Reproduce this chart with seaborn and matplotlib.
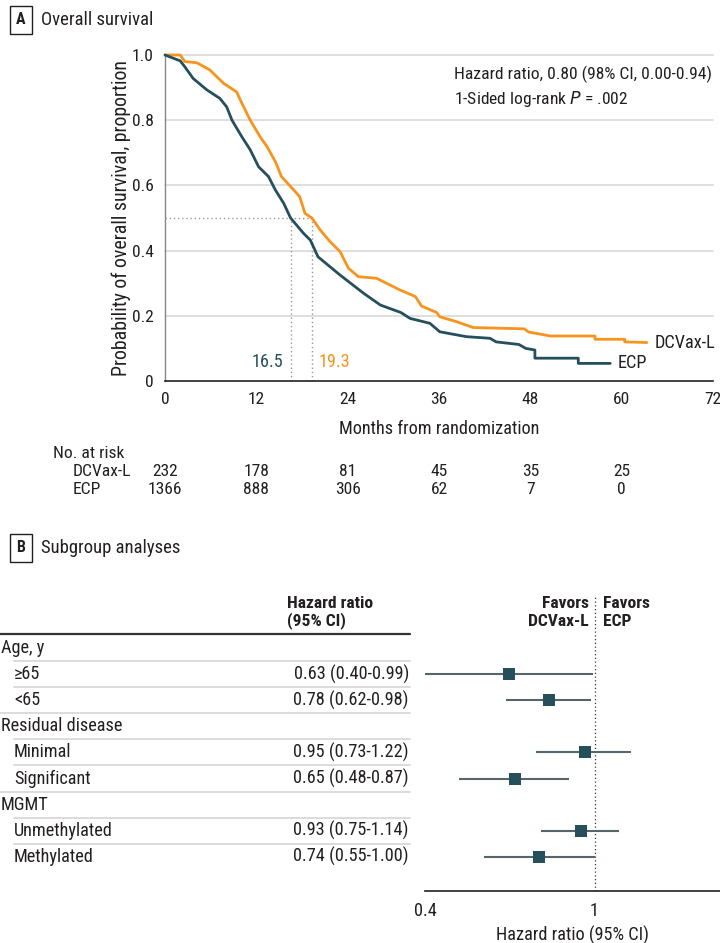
import numpy as np
import pandas as pd
import matplotlib
matplotlib.use("Agg")
import matplotlib.pyplot as plt
import matplotlib.transforms as mtransforms
from matplotlib import font_manager as fm
from matplotlib.ticker import FixedLocator, NullFormatter
import seaborn as sns

# ---------------- data ----------------
ecp_t = [0, 2.0, 2.6, 3.7, 5.5, 7.2, 8.1, 8.8, 10.1, 11.2, 12.3, 13.6, 14.5, 15.6, 16.5,
         18.2, 19.1, 20.1, 23.0, 26.1, 28.3, 31.0, 32.2, 34.8, 36.1, 39.6, 42.7, 43.5,
         46.5, 47.4, 48.6, 48.6, 54.3, 54.3, 58.5]
ecp_s = [1.0, 0.982, 0.964, 0.928, 0.893, 0.867, 0.841, 0.80, 0.749, 0.709, 0.657, 0.627,
         0.586, 0.545, 0.50, 0.453, 0.432, 0.381, 0.325, 0.269, 0.233, 0.21, 0.192, 0.177,
         0.151, 0.136, 0.131, 0.120, 0.112, 0.100, 0.095, 0.070, 0.070, 0.054, 0.054]
dcv_t = [0, 2.0, 2.6, 4.2, 5.9, 7.7, 9.4, 10.1, 11.2, 12.5, 13.4, 14.5, 15.3, 17.3, 17.7,
         18.4, 19.3, 20.4, 21.7, 23.0, 24.1, 25.4, 27.8, 29.6, 30.9, 32.9, 33.7, 35.7,
         36.1, 38.3, 40.5, 47.2, 47.8, 49.5, 50.6, 56.5, 56.5, 60.4, 60.4, 63.3]
dcv_s = [1.0, 1.0, 0.98, 0.976, 0.954, 0.913, 0.887, 0.852, 0.80, 0.749, 0.719, 0.673,
         0.627, 0.576, 0.565, 0.514, 0.50, 0.463, 0.427, 0.397, 0.346, 0.320, 0.315,
         0.294, 0.279, 0.259, 0.230, 0.210, 0.197, 0.182, 0.164, 0.160, 0.150, 0.143,
         0.138, 0.138, 0.128, 0.128, 0.120, 0.118]
medians = {"ECP": 16.5, "DCVax-L": 19.3}
risk_times = [0, 12, 24, 36, 48, 60]
risk_dcv = [232, 178, 81, 45, 35, 25]
risk_ecp = [1366, 888, 306, 62, 7, 0]

row_labels = ["Age, y", "≥65", "<65", "Residual disease", "Minimal", "Significant",
              "MGMT", "Unmethylated", "Methylated"]
row_is_group = [True, False, False, True, False, False, True, False, False]
hr_text = ["", "0.63 (0.40-0.99)", "0.78 (0.62-0.98)", "", "0.95 (0.73-1.22)",
           "0.65 (0.48-0.87)", "", "0.93 (0.75-1.14)", "0.74 (0.55-1.00)"]
hr = [np.nan, 0.63, 0.78, np.nan, 0.95, 0.65, np.nan, 0.93, 0.74]
hr_lo = [np.nan, 0.40, 0.62, np.nan, 0.73, 0.48, np.nan, 0.75, 0.55]
hr_hi = [np.nan, 0.99, 0.98, np.nan, 1.22, 0.87, np.nan, 1.14, 1.00]

# ---------------- style ----------------
sns.set_theme(style="white")
names = {f.name for f in fm.fontManager.ttflist}
cond_dejavu = any(f.name == "DejaVu Sans" and "ondensed" in str(f.stretch) or
                  ("DejaVuSansCondensed" in f.fname) for f in fm.fontManager.ttflist)
STRETCH = "normal"
SC = 1.0
if "Liberation Sans Narrow" in names:
    FONT = ["Liberation Sans Narrow", "DejaVu Sans"]
    SC = 1.08
elif "Roboto Condensed" in names:
    FONT = ["Roboto Condensed", "DejaVu Sans"]
    SC = 1.05
elif cond_dejavu:
    FONT = ["DejaVu Sans"]
    STRETCH = "condensed"
    SC = 1.0
else:
    FONT = ["Roboto", "DejaVu Sans"]
    SC = 0.98
plt.rcParams["font.family"] = FONT
plt.rcParams["font.stretch"] = STRETCH
plt.rcParams["font.size"] = 11

def fs(v):
    return v * SC

TXT = "#231f20"
TEAL = "#264f5c"
ORANGE = "#f7941d"
GRID = "#d9d9d9"

W, H = 720, 943
fig = plt.figure(figsize=(W / 100, H / 100), dpi=100)

def fx(p):
    return p / W

def fy(p):
    return 1 - p / H

def box_label(x, y, letter, title):
    fig.text(fx(x), fy(y), letter, fontsize=fs(11), fontweight="bold", color=TXT,
             ha="center", va="center",
             bbox=dict(boxstyle="square,pad=0.4", fc="white", ec=TXT, lw=1.0))
    fig.text(fx(x + 20), fy(y), title, fontsize=fs(12.8), color=TXT, ha="left", va="center")

box_label(21, 20, "A", "Overall survival")
box_label(21, 548, "B", "Subgroup analyses")

# ---------------- KM panel ----------------
ax = fig.add_axes([fx(165), fy(381), fx(713) - fx(165), fy(55) - fy(381)])
km = pd.concat([
    pd.DataFrame({"t": dcv_t, "s": dcv_s, "arm": "DCVax-L"}),
    pd.DataFrame({"t": ecp_t, "s": ecp_s, "arm": "ECP"}),
])
sns.lineplot(data=km, x="t", y="s", hue="arm", palette={"DCVax-L": ORANGE, "ECP": TEAL},
             estimator=None, sort=False, lw=2.0, legend=False,
             ax=ax, zorder=3, clip_on=False)
ax.set_xlim(0, 72)
ax.set_ylim(0, 1.0)
ax.set_xticks(range(0, 73, 12))
ax.set_yticks([0, 0.2, 0.4, 0.6, 0.8, 1.0])
ax.set_yticklabels(["0", "0.2", "0.4", "0.6", "0.8", "1.0"])
for yv in [0.2, 0.4, 0.6, 0.8, 1.0]:
    ax.axhline(yv, color=GRID, lw=1.2, zorder=0, clip_on=False)
for side in ["top", "right"]:
    ax.spines[side].set_visible(False)
ax.spines["left"].set_color("#888888")
ax.spines["left"].set_linewidth(1.0)
ax.spines["bottom"].set_color(TXT)
ax.spines["bottom"].set_linewidth(1.2)
ax.tick_params(axis="both", which="both", direction="out", length=5, width=1,
               colors=TXT, labelsize=fs(12), pad=3)
ax.set_xlabel("Months from randomization", fontsize=fs(12.5), color=TXT, labelpad=9)
ax.set_ylabel("Probability of overall survival, proportion", fontsize=fs(13.6), color=TXT)
ax.yaxis.set_label_coords((131 - 165) / 548, 0.5)

# median lines
ax.plot([0, medians["DCVax-L"]], [0.5, 0.5], ls=(0, (1, 2)), color="#999999", lw=1, zorder=1)
for m in medians.values():
    ax.plot([m, m], [0, 0.5], ls=(0, (1, 2)), color="#999999", lw=1, zorder=1)
ax.text(medians["ECP"] - 0.9, 0.058, f"{medians['ECP']}", color=TEAL, fontsize=fs(12.5),
        ha="right", va="center")
ax.text(medians["DCVax-L"] + 0.9, 0.058, f"{medians['DCVax-L']}", color=ORANGE,
        fontsize=fs(12.5), ha="left", va="center")
ax.text(dcv_t[-1] + 1.0, dcv_s[-1], "DCVax-L", color=TXT, fontsize=fs(12.5), ha="left",
        va="center")
ax.text(ecp_t[-1] + 1.0, ecp_s[-1], "ECP", color=TXT, fontsize=fs(12.5), ha="left",
        va="center")

ax.text(38.0, 0.94, "Hazard ratio, 0.80 (98% CI, 0.00-0.94)", fontsize=fs(12), color=TXT,
        ha="left", va="center")
ax.text(38.0, 0.865, "1-Sided log-rank $\\mathit{P}$ = .002", fontsize=fs(12), color=TXT,
        ha="left", va="center")

# number at risk
tr = mtransforms.blended_transform_factory(ax.transData, fig.transFigure)
fig.text(fx(53), fy(453), "No. at risk", fontsize=fs(12), color=TXT, ha="left", va="center")
fig.text(fx(73), fy(471), "DCVax-L", fontsize=fs(12), color=TXT, ha="left", va="center")
fig.text(fx(73), fy(490), "ECP", fontsize=fs(12), color=TXT, ha="left", va="center")
for t, a, b in zip(risk_times, risk_dcv, risk_ecp):
    ax.text(t, fy(471), str(a), transform=tr, fontsize=fs(12), color=TXT, ha="center",
            va="center")
    ax.text(t, fy(490), str(b), transform=tr, fontsize=fs(12), color=TXT, ha="center",
            va="center")

# ---------------- forest panel ----------------
TOP_PX, BOT_PX = 595, 891
ROW0, ROWH = 648, 26.1

def r_of(p):
    return (p - ROW0) / ROWH

ylim = (r_of(BOT_PX), r_of(TOP_PX))

tab = fig.add_axes([0, fy(BOT_PX), fx(412), fy(TOP_PX) - fy(BOT_PX)])
tab.set_xlim(0, 412)
tab.set_ylim(*ylim)
tab.axis("off")
tab.text(287, r_of(603), "Hazard ratio", fontsize=fs(12), fontweight="bold", color=TXT,
         ha="left", va="center")
tab.text(287, r_of(621), "(95% CI)", fontsize=fs(12), fontweight="bold", color=TXT,
         ha="left", va="center")
tab.plot([0, 410], [r_of(634)] * 2, color="#333333", lw=1.6, clip_on=False)
for i, (lab, g, h) in enumerate(zip(row_labels, row_is_group, hr_text)):
    tab.text(1 if g else 14, i, lab, fontsize=fs(12.5), color=TXT, ha="left", va="center")
    if h:
        tab.text(409, i, h, fontsize=fs(12.5), color=TXT, ha="right", va="center")
for i in range(len(row_labels) - 1):
    full = (not row_is_group[i]) and row_is_group[i + 1]
    tab.plot([0 if full else 14, 410], [i + 0.5] * 2, color=GRID, lw=1.3, clip_on=False)

fa = fig.add_axes([fx(425), fy(BOT_PX), 1 - fx(425), fy(TOP_PX) - fy(BOT_PX)])
fa.set_xscale("log")
fa.set_xlim(0.4, 1.97)
fa.set_ylim(*ylim)
fdf = pd.DataFrame({"row": np.arange(len(hr)), "hr": hr, "lo": hr_lo, "hi": hr_hi}).dropna()
fa.hlines(fdf["row"], fdf["lo"], fdf["hi"], color="#56666b", lw=1.5, zorder=2)
sns.scatterplot(data=fdf, x="hr", y="row", marker="s", s=85, color=TEAL, edgecolor=TEAL,
                linewidth=0, ax=fa, zorder=3, legend=False)
fa.plot([1, 1], [ylim[0], r_of(597)], ls=(0, (1, 2)), color="#333333", lw=0.9, zorder=1)
fa.text(0.97, r_of(603), "Favors", fontsize=fs(12), fontweight="bold", color=TXT,
        ha="right", va="center")
fa.text(0.97, r_of(621), "DCVax-L", fontsize=fs(12), fontweight="bold", color=TXT,
        ha="right", va="center")
fa.text(1.045, r_of(603), "Favors", fontsize=fs(12), fontweight="bold", color=TXT,
        ha="left", va="center")
fa.text(1.045, r_of(621), "ECP", fontsize=fs(12), fontweight="bold", color=TXT,
        ha="left", va="center")
for side in ["top", "right", "left"]:
    fa.spines[side].set_visible(False)
fa.spines["bottom"].set_color(TXT)
fa.spines["bottom"].set_linewidth(1.2)
fa.set_yticks([])
fa.xaxis.set_major_locator(FixedLocator([0.4, 1]))
fa.xaxis.set_minor_locator(FixedLocator([0.5, 0.6, 0.7, 0.8, 0.9]))
fa.xaxis.set_minor_formatter(NullFormatter())
fa.set_xticklabels(["0.4", "1"])
fa.tick_params(axis="x", which="both", direction="in", length=6, width=1, colors=TXT,
               labelsize=fs(12.5), pad=8)
fa.set_xlabel("Hazard ratio (95% CI)", fontsize=fs(12.5), color=TXT, labelpad=4)
fa.set_ylabel("")

fig.savefig("out.png", dpi=100)
